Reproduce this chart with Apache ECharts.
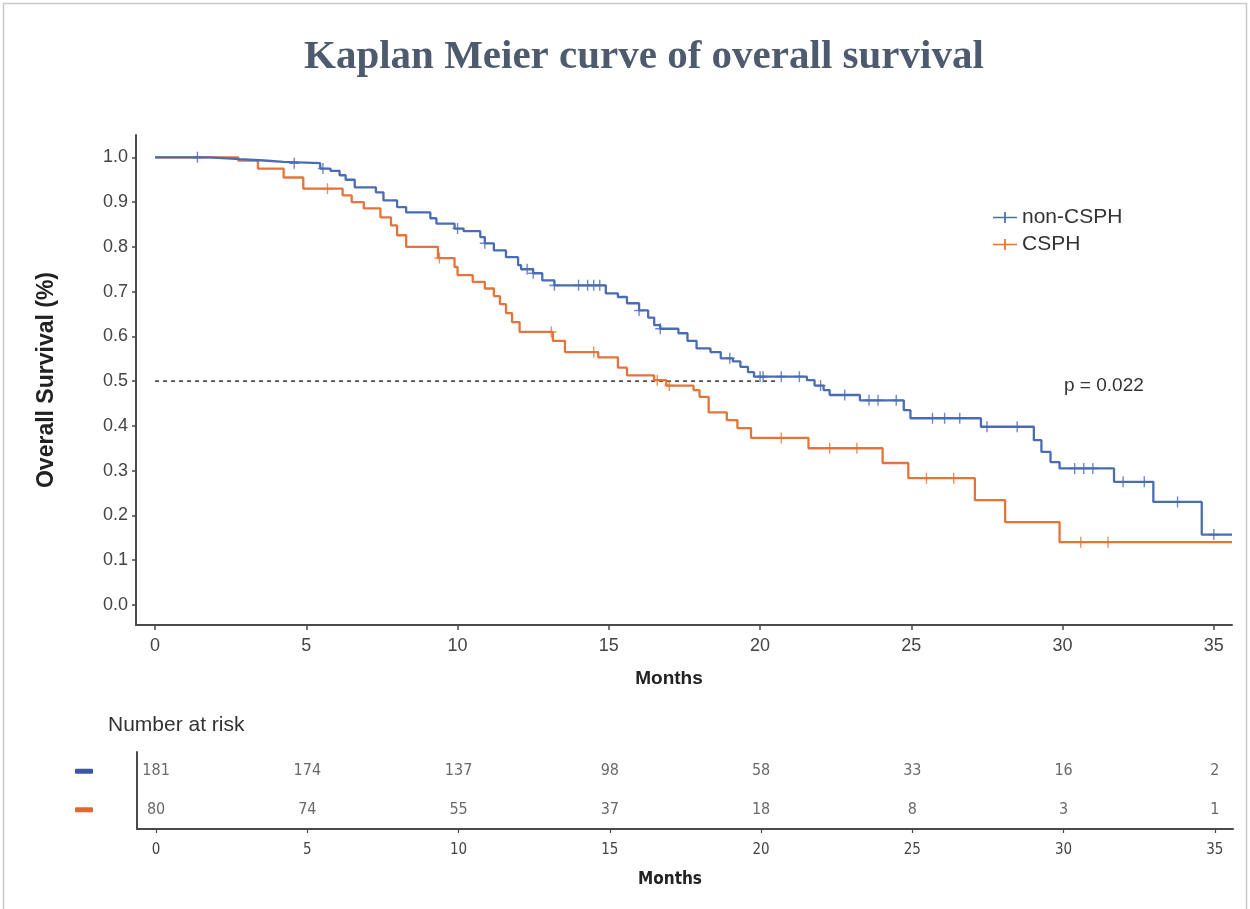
<!DOCTYPE html>
<html>
<head>
<meta charset="utf-8">
<script src="https://cdn.jsdelivr.net/npm/echarts@6/dist/echarts.min.js"></script>
<style>
html,body{margin:0;padding:0;background:#fff;}
#chart{width:1250px;height:909px;}
</style>
</head>
<body>
<div id="chart"></div>
<script>
// ---- data ----
const xTicks = [0, 5, 10, 15, 20, 25, 30, 35];
const yTicks = [0, 0.1, 0.2, 0.3, 0.4, 0.5, 0.6, 0.7, 0.8, 0.9, 1.0];
const groupNames = ['non-CSPH', 'CSPH'];

const nonTimes = [0, 1.8, 2.8, 3.6, 4.25, 5.46, 5.8, 6.1, 6.3, 6.6, 7.3, 7.55, 8.0, 8.3, 9.1, 9.3, 9.9, 10.2, 10.75, 10.9, 11.2, 11.6, 12.0, 12.1, 12.5, 12.8, 13.2, 14.9, 15.3, 15.6, 16.0, 16.3, 16.5, 16.7, 17.3, 17.6, 17.9, 18.36, 18.7, 19.1, 19.35, 19.6, 19.8, 21.55, 21.8, 22.1, 22.3, 23.3, 24.75, 24.97, 27.3, 29.05, 29.3, 29.6, 29.9, 31.7, 33.0, 34.6, 35.6];
const nonSurv = [1.0, 0.996, 0.993, 0.99, 0.987, 0.975, 0.97, 0.96, 0.95, 0.933, 0.922, 0.904, 0.889, 0.877, 0.864, 0.852, 0.841, 0.835, 0.822, 0.808, 0.792, 0.777, 0.759, 0.75, 0.741, 0.725, 0.714, 0.696, 0.688, 0.674, 0.658, 0.642, 0.625, 0.617, 0.607, 0.59, 0.573, 0.565, 0.551, 0.544, 0.532, 0.52, 0.51, 0.502, 0.49, 0.48, 0.469, 0.457, 0.435, 0.417, 0.398, 0.368, 0.342, 0.319, 0.305, 0.275, 0.23, 0.157, 0.157];
const nonCensor = [1.4, 4.6, 5.55, 10.0, 10.9, 12.3, 12.5, 13.2, 14.0, 14.3, 14.5, 14.7, 16.0, 16.7, 19.0, 20.0, 20.1, 20.7, 21.3, 22.0, 22.8, 23.6, 23.9, 24.5, 25.7, 26.1, 26.6, 27.5, 28.5, 30.4, 30.7, 31.0, 32.0, 32.7, 33.8, 35.0];

const cTimes = [0, 2.75, 3.4, 4.25, 4.9, 6.2, 6.5, 6.9, 7.45, 7.8, 8.0, 8.3, 9.35, 9.9, 10.0, 10.5, 10.9, 11.2, 11.4, 11.6, 11.8, 12.05, 13.15, 13.55, 14.65, 15.3, 15.6, 16.5, 16.9, 17.8, 18.0, 18.3, 18.9, 19.25, 19.7, 21.6, 24.05, 24.9, 27.1, 28.1, 29.9, 35.6];
const cSurv = [1.0, 0.993, 0.975, 0.955, 0.93, 0.915, 0.9, 0.886, 0.866, 0.848, 0.826, 0.80, 0.775, 0.755, 0.737, 0.722, 0.707, 0.69, 0.672, 0.652, 0.632, 0.61, 0.59, 0.565, 0.553, 0.53, 0.513, 0.502, 0.49, 0.48, 0.465, 0.43, 0.413, 0.395, 0.373, 0.35, 0.317, 0.283, 0.234, 0.185, 0.14, 0.14];
const cCensor = [5.7, 9.4, 13.1, 14.5, 16.6, 17.0, 20.7, 22.3, 23.2, 25.5, 26.4, 30.6, 31.5];

const medianLevel = 0.5;
const medianEnd = 20.6;
const pValueText = 'p = 0.022';

const riskTimes = [0, 5, 10, 15, 20, 25, 30, 35];
const riskNon = [181, 174, 137, 98, 58, 33, 16, 2];
const riskCsph = [80, 74, 55, 37, 18, 8, 3, 1];

// ---- styles ----
const BLUE = '#4a6cb3';
const ORANGE = '#e5743a';
const AXIS = '#4a4a4a';
const TXT = '#444';
const SANS = '"Liberation Sans", Arial, sans-serif';
const NARROW = '"Liberation Sans Narrow", "Arial Narrow", "DejaVu Sans Condensed", "Liberation Sans", sans-serif';
const PLUS = 'path://M0,4.3h10v1.4h-10z M4.3,0h1.4v10h-1.4z';
const LEG_ICON = 'path://M0,4.2h22v1.6h-22z M10.2,0h1.6v10h-1.6z';

function pairs(t, s) { return t.map((v, i) => [v, s[i]]); }
function survAt(t, s, x) { let v = s[0]; for (let i = 0; i < t.length; i++) { if (t[i] <= x) v = s[i]; else break; } return v; }

const chart = echarts.init(document.getElementById('chart'));
const XMIN = -0.63, XMAX = 35.6;

chart.setOption({
  animation: false,
  backgroundColor: '#fff',
  title: [
    { text: 'Kaplan Meier curve of overall survival', left: 299, top: 32,
      textStyle: { fontFamily: '"Liberation Serif", "Times New Roman", serif', fontWeight: 'bold', fontSize: 41, color: '#4e5b6e' } },
    { text: 'Number at risk', left: 103, top: 710,
      textStyle: { fontFamily: SANS, fontWeight: 'normal', fontSize: 21, color: '#333' } },
    { text: pValueText, left: 1059, top: 371,
      textStyle: { fontFamily: SANS, fontWeight: 'normal', fontSize: 19, color: '#333' } }
  ],
  graphic: [
    { type: 'rect', shape: { x: 3.5, y: 3.5, width: 1243, height: 1000 }, style: { fill: 'none', stroke: '#c9c9c9', lineWidth: 1.5 }, silent: true }
  ],
  legend: {
    orient: 'vertical', left: 988, top: 202, itemWidth: 24, itemGap: 6, itemHeight: 11,
    data: [{ name: groupNames[0], icon: LEG_ICON }, { name: groupNames[1], icon: LEG_ICON }],
    textStyle: { fontFamily: SANS, fontSize: 21, color: '#333' }
  },
  grid: [
    { left: 136, top: 135, width: 1096, height: 490 },
    { left: 137, top: 752, width: 1096, height: 77 }
  ],
  xAxis: [
    { type: 'value', gridIndex: 0, min: XMIN, max: XMAX,
      axisLine: { show: true, onZero: false, lineStyle: { color: AXIS, width: 2 } },
      axisTick: { show: true, customValues: xTicks, length: 5, lineStyle: { color: AXIS, width: 1.5 } },
      axisLabel: { customValues: xTicks, margin: 12, fontFamily: SANS, fontSize: 18, color: TXT },
      splitLine: { show: false },
      name: 'Months', nameLocation: 'middle', nameGap: 44,
      nameTextStyle: { fontFamily: SANS, fontWeight: 'bold', fontSize: 19, color: '#222', padding: [0, 30, 0, 0] } },
    { type: 'value', gridIndex: 1, min: XMIN, max: XMAX,
      axisLine: { show: true, onZero: false, lineStyle: { color: AXIS, width: 2 } },
      axisTick: { show: true, customValues: xTicks, length: 4, lineStyle: { color: AXIS, width: 1.2 } },
      axisLabel: { customValues: xTicks, margin: 14, fontFamily: NARROW, fontSize: 15, color: TXT },
      splitLine: { show: false },
      name: 'Months', nameLocation: 'middle', nameGap: 42,
      nameTextStyle: { fontFamily: NARROW, fontWeight: 'bold', fontSize: 17, color: '#222', padding: [0, 30, 0, 0] } }
  ],
  yAxis: [
    { type: 'value', gridIndex: 0, min: -0.045, max: 1.05,
      axisLine: { show: true, onZero: false, lineStyle: { color: AXIS, width: 2 } },
      axisTick: { show: true, customValues: yTicks, length: 4, lineStyle: { color: AXIS, width: 1.5 } },
      axisLabel: { customValues: yTicks, margin: 8, fontFamily: SANS, fontSize: 18, color: TXT, formatter: v => v.toFixed(1) },
      splitLine: { show: false },
      name: 'Overall Survival (%)', nameLocation: 'middle', nameGap: 78, nameRotate: 90,
      nameTextStyle: { fontFamily: SANS, fontWeight: 'bold', fontSize: 23, color: '#222' } },
    { type: 'category', gridIndex: 1, inverse: true, data: groupNames,
      axisLine: { show: true, onZero: false, lineStyle: { color: AXIS, width: 2 } },
      axisTick: { show: false },
      axisLabel: { margin: 44, formatter: (v, i) => (i === 0 ? '{a| }' : '{b| }'),
        rich: { a: { width: 18, height: 5, backgroundColor: '#3d55a3', borderRadius: 1 },
                b: { width: 18, height: 5, backgroundColor: '#e0682e', borderRadius: 1 } } },
      splitLine: { show: false } }
  ],
  series: [
    { name: 'median', type: 'line', xAxisIndex: 0, yAxisIndex: 0, symbol: 'none', silent: true,
      data: [[0, medianLevel], [medianEnd, medianLevel]],
      lineStyle: { color: '#333', width: 1.5, type: [4, 4] }, z: 1 },
    { name: groupNames[0], type: 'line', step: 'end', xAxisIndex: 0, yAxisIndex: 0, symbol: 'none',
      data: pairs(nonTimes, nonSurv), lineStyle: { color: BLUE, width: 2.3 }, itemStyle: { color: BLUE }, z: 3 },
    { name: groupNames[1], type: 'line', step: 'end', xAxisIndex: 0, yAxisIndex: 0, symbol: 'none',
      data: pairs(cTimes, cSurv), lineStyle: { color: ORANGE, width: 2.3 }, itemStyle: { color: ORANGE }, z: 2 },
    { name: groupNames[0], type: 'scatter', xAxisIndex: 0, yAxisIndex: 0, symbol: PLUS, symbolSize: [10, 11],
      data: nonCensor.map(t => [t, survAt(nonTimes, nonSurv, t)]), itemStyle: { color: BLUE }, z: 4 },
    { name: groupNames[1], type: 'scatter', xAxisIndex: 0, yAxisIndex: 0, symbol: PLUS, symbolSize: [10, 11],
      data: cCensor.map(t => [t, survAt(cTimes, cSurv, t)]), itemStyle: { color: ORANGE }, z: 4 },
    { name: 'riskNon', type: 'scatter', xAxisIndex: 1, yAxisIndex: 1, symbolSize: 0, silent: true,
      data: riskTimes.map((t, i) => [t, groupNames[0], riskNon[i]]),
      label: { show: true, position: 'inside', formatter: p => p.value[2], fontFamily: NARROW, fontSize: 16, color: TXT } },
    { name: 'riskCsph', type: 'scatter', xAxisIndex: 1, yAxisIndex: 1, symbolSize: 0, silent: true,
      data: riskTimes.map((t, i) => [t, groupNames[1], riskCsph[i]]),
      label: { show: true, position: 'inside', formatter: p => p.value[2], fontFamily: NARROW, fontSize: 16, color: TXT } }
  ]
});
</script>
</body>
</html>
